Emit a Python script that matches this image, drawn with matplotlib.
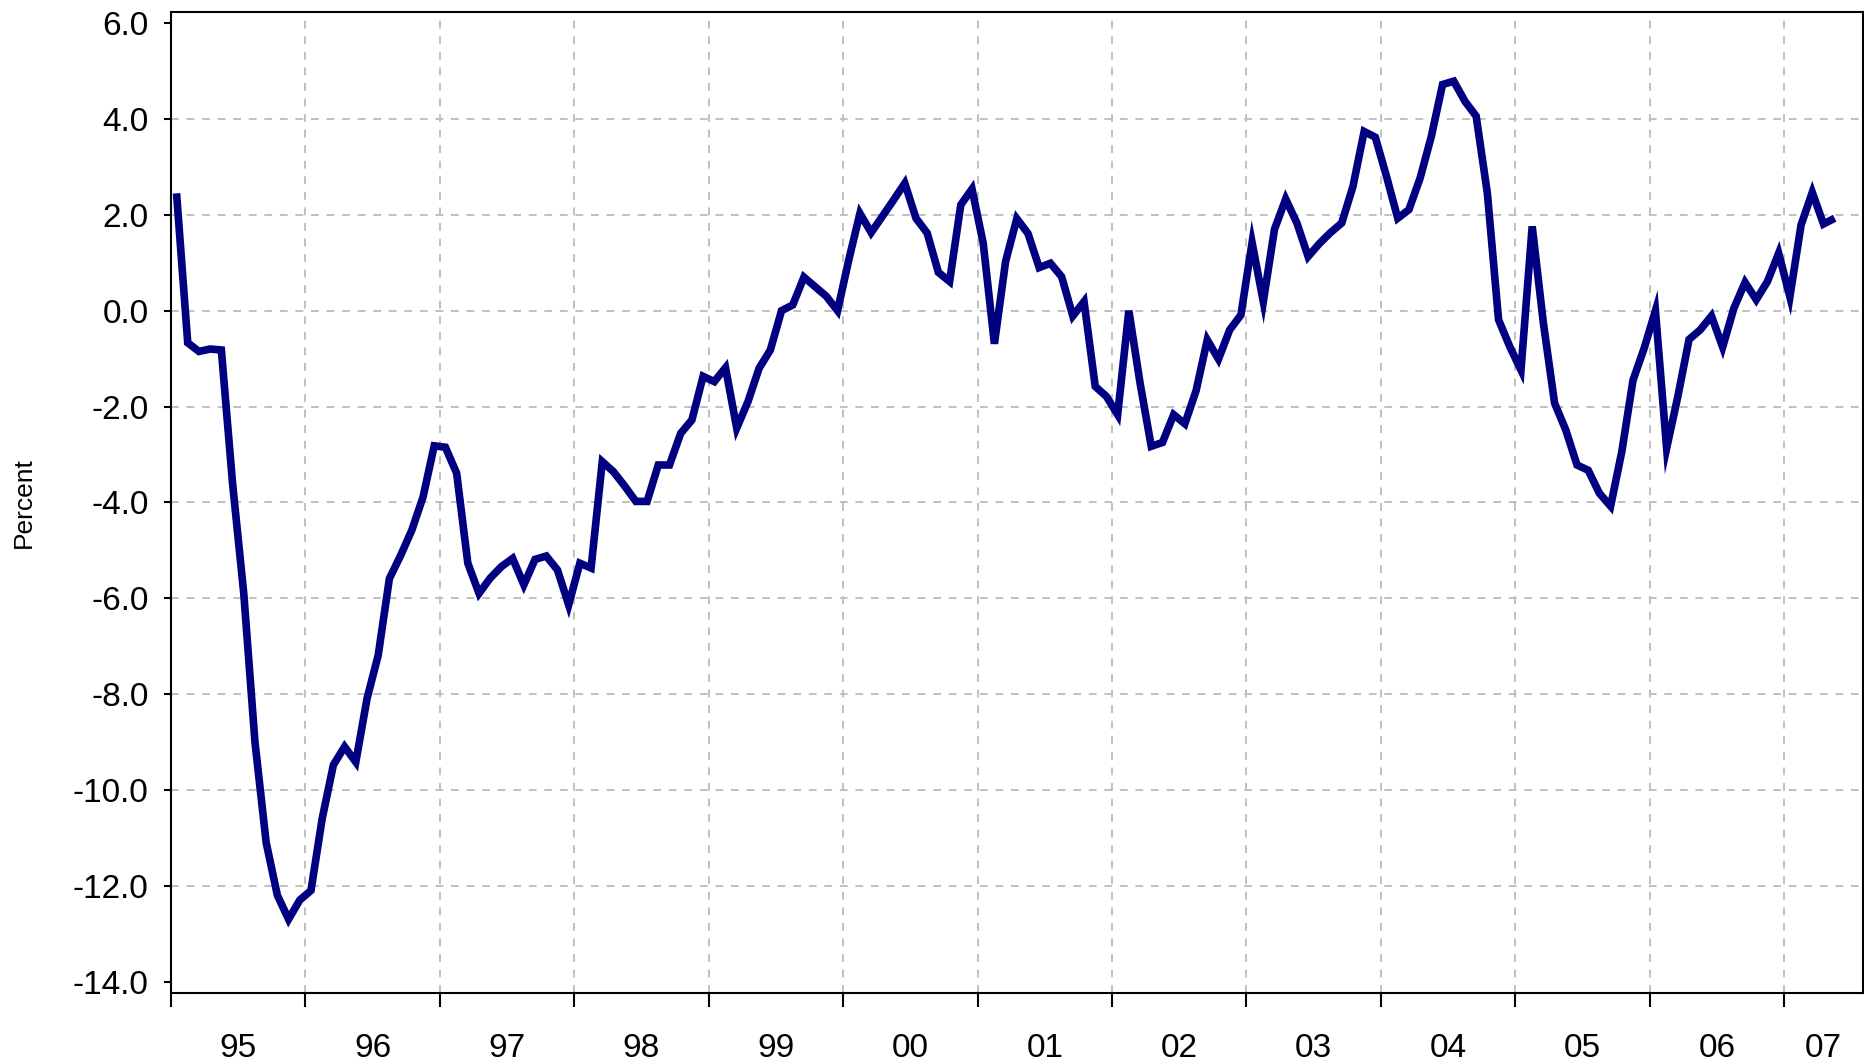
import matplotlib
matplotlib.use("Agg")
import matplotlib.pyplot as plt
import numpy as np

# monthly values, percent (Jan 1995 .. May 2007)
y1995 = [2.45, -0.67, -0.85, -0.80, -0.82, -3.6, -5.9, -9.0, -11.1, -12.2, -12.7, -12.3]
y1996 = [-12.1, -10.6, -9.48, -9.1, -9.42, -8.1, -7.19, -5.59, -5.11, -4.58, -3.89, -2.82]
y1997 = [-2.85, -3.39, -5.27, -5.90, -5.58, -5.34, -5.17, -5.72, -5.19, -5.12, -5.41, -6.14]
y1998 = [-5.27, -5.37, -3.15, -3.36, -3.66, -3.98, -3.98, -3.22, -3.22, -2.56, -2.28, -1.37]
y1999 = [-1.48, -1.19, -2.45, -1.9, -1.2, -0.82, 0.0, 0.12, 0.70, 0.50, 0.30, 0.0]
y2000 = [1.06, 2.03, 1.63, 1.97, 2.31, 2.66, 1.93, 1.62, 0.80, 0.61, 2.21, 2.54]
y2001 = [1.41, -0.69, 1.03, 1.92, 1.61, 0.90, 0.99, 0.71, -0.11, 0.19, -1.58, -1.79]
y2002 = [-2.17, 0.0, -1.51, -2.83, -2.75, -2.17, -2.36, -1.67, -0.61, -1.01, -0.40, -0.09]
y2003 = [1.42, 0.19, 1.70, 2.33, 1.83, 1.13, 1.40, 1.63, 1.83, 2.59, 3.74, 3.62]
y2004 = [2.80, 1.93, 2.11, 2.77, 3.64, 4.72, 4.79, 4.37, 4.06, 2.45, -0.19, -0.75]
y2005 = [-1.24, 1.76, -0.26, -1.93, -2.49, -3.22, -3.33, -3.81, -4.08, -2.94, -1.45, -0.78]
y2006 = [0.0, -2.87, -1.79, -0.60, -0.40, -0.11, -0.76, 0.05, 0.59, 0.23, 0.61, 1.20]
y2007 = [0.29, 1.79, 2.47, 1.81, 1.93]

year_labels = ["95", "96", "97", "98", "99", "00", "01", "02", "03", "04", "05", "06", "07"]
y_ticks = [6.0, 4.0, 2.0, 0.0, -2.0, -4.0, -6.0, -8.0, -10.0, -12.0, -14.0]

values = np.array(y1995 + y1996 + y1997 + y1998 + y1999 + y2000 + y2001 +
                  y2002 + y2003 + y2004 + y2005 + y2006 + y2007)
months = np.arange(len(values)) + 0.5

plt.rcParams["font.family"] = ["Liberation Sans", "DejaVu Sans"]

fig = plt.figure(figsize=(18.64, 10.64), dpi=100)
ax = fig.add_axes([0.0917, 0.0667, 0.9076, 0.9223])

ax.plot(months, values, color="#000080", lw=5.5, solid_capstyle="butt",
        solid_joinstyle="miter", zorder=3)

ax.set_xlim(0, 151)
ax.set_ylim(-14.24, 6.24)

# year boundaries as major ticks, labels centred between them
bounds = np.arange(len(year_labels)) * 12
centres = [min(b + 6, (b + 151) / 2) for b in bounds]
ax.set_xticks(bounds)
ax.set_xticklabels([])
ax.set_xticks(centres, minor=True)
ax.set_xticklabels(year_labels, minor=True, fontsize=24)
ax.tick_params(axis="x", which="major", direction="out", length=10, width=1.5)
ax.tick_params(axis="x", which="minor", length=0, pad=29)

ax.set_yticks(y_ticks)
ax.set_yticklabels([f"{v:.1f}" for v in y_ticks], fontsize=24)
ax.tick_params(axis="y", direction="out", length=5, width=1.5, pad=11)

ax.grid(True, which="major", color="#c0c0c0", ls=(0, (4, 4)), lw=1.4)
ygrid = ax.yaxis.get_gridlines()
ygrid[0].set_visible(False)
ygrid[-1].set_visible(False)
ax.xaxis.get_gridlines()[0].set_visible(False)

for s in ax.spines.values():
    s.set_linewidth(1.5)
    s.set_color("black")

fig.text(0.0129, 0.528, "Percent", rotation=90, ha="center", va="center", fontsize=19)

fig.savefig("out.png", dpi=100)
